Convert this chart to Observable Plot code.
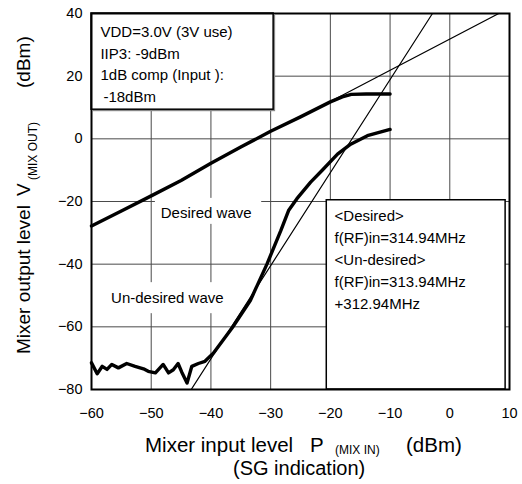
<!DOCTYPE html>
<html>
<head>
<meta charset="utf-8">
<script src="https://cdn.jsdelivr.net/npm/d3@7"></script>
<script src="https://cdn.jsdelivr.net/npm/@observablehq/plot@0.6"></script>
<style>
  html, body { margin: 0; padding: 0; background: #fff; }
  #chart { width: 522px; height: 484px; }
</style>
</head>
<body>
<div id="chart"></div>
<script>
// ---- data ----
const xDomain = [-60, 10];
const yDomain = [-80, 40];
const xTicks = [-60, -50, -40, -30, -20, -10, 0, 10];
const yTicks = [-80, -60, -40, -20, 0, 20, 40];

// Desired wave (thick)
const desiredX = [-60, -55, -50, -45, -40, -35, -30, -25, -20, -18, -16.5, -14, -12, -10];
const desiredY = [-27.8, -23, -18.2, -13.3, -7.8, -2.6, 2.4, 7, 11.8, 13.4, 14.2, 14.3, 14.3, 14.3];

// Un-desired wave (thick)
const undesiredX = [-60, -59.05, -58.2, -57.4, -56.6, -55.5, -54.1, -52.7, -51.3, -50.5, -49.3, -48, -47.1, -46.3, -45.5, -44.9, -44, -43.2, -42.1, -41, -39.6, -36.4, -33.4, -30.6, -28.3, -27, -25.6, -23.3, -21.4, -18.8, -16.6, -13.8, -10];
const undesiredY = [-71.5, -75, -72.6, -73.6, -72, -73.1, -71.7, -72.6, -73.4, -74.2, -74.7, -72, -74.7, -73.7, -71.7, -74.4, -77.9, -72.6, -71.7, -71, -68.4, -60.2, -51.6, -39.9, -29.3, -22.9, -19.1, -13.8, -10.1, -4.9, -1.7, 1, 3];

// Thin extrapolation lines
const desiredThinX = [-22, 8.2];
const desiredThinY = [9.9, 40];
const undesiredThinX = [-43.3, -2.9];
const undesiredThinY = [-80, 40];

// Annotation boxes
const infoBox = {x1: -60, x2: -29.5, y1: 40, y2: 9.3};
const condBox = {x1: -20.6, x2: 9.35, y1: -19.6, y2: -80};
const labelBacks = [
  {x1: -49.3, x2: -31.5, y1: -19, y2: -27.3},
  {x1: -58.5, x2: -36.4, y1: -45.9, y2: -55.8}
];

const infoLines = ["VDD=3.0V (3V use)", "IIP3: -9dBm", "1dB comp (Input ):", "-18dBm"];
const infoLineX = [-58.5, -58.5, -58.5, -58.0];
const infoLineY = [34.0, 27.1, 20.3, 13.3];

const condLines = ["<Desired>", "f(RF)in=314.94MHz", "<Un-desired>", "f(RF)in=313.94MHz", "+312.94MHz"];
const condLineX = -19.3;
const condLineY = [-24.8, -31.8, -38.8, -45.9, -52.9];

const waveLabels = ["Desired wave", "Un-desired wave"];
const waveLabelX = [-40.8, -47.3];
const waveLabelY = [-23.8, -50.8];

// ---- build tables ----
const desired = desiredX.map((x, i) => ({x, y: desiredY[i]}));
const undesired = undesiredX.map((x, i) => ({x, y: undesiredY[i]}));
const desiredThin = desiredThinX.map((x, i) => ({x, y: desiredThinY[i]}));
const undesiredThin = undesiredThinX.map((x, i) => ({x, y: undesiredThinY[i]}));
const infoText = infoLines.map((t, i) => ({t, x: infoLineX[i], y: infoLineY[i]}));
const condText = condLines.map((t, i) => ({t, x: condLineX, y: condLineY[i]}));
const waveText = waveLabels.map((t, i) => ({t, x: waveLabelX[i], y: waveLabelY[i]}));

const FONT = "'Liberation Sans', Arial, Helvetica, sans-serif";
const gridColor = "#4a4a4a";

const svg = Plot.plot({
  width: 522,
  height: 484,
  marginLeft: 91,
  marginRight: 13,
  marginTop: 13,
  marginBottom: 95,
  style: {fontFamily: FONT, fontSize: "14.5px", color: "#000", background: "#fff"},
  x: {domain: xDomain, ticks: xTicks, label: null},
  y: {domain: yDomain, ticks: yTicks, label: null},
  marks: [
    Plot.gridX(xTicks, {stroke: gridColor, strokeOpacity: 1, strokeWidth: 1}),
    Plot.gridY(yTicks, {stroke: gridColor, strokeOpacity: 1, strokeWidth: 1}),
    Plot.rect(labelBacks, {x1: "x1", x2: "x2", y1: "y1", y2: "y2", fill: "white"}),
    Plot.rect([infoBox], {x1: "x1", x2: "x2", y1: "y1", y2: "y2", fill: "#888", dx: 2, dy: 2}),
    Plot.rect([infoBox], {x1: "x1", x2: "x2", y1: "y1", y2: "y2", fill: "white", stroke: "black", strokeWidth: 1.5}),
    Plot.rect([condBox], {x1: "x1", x2: "x2", y1: "y1", y2: "y2", fill: "white", stroke: "black", strokeWidth: 1.5}),
    Plot.text(infoText, {x: "x", y: "y", text: "t", textAnchor: "start", fontSize: 15, fill: "black"}),
    Plot.text(condText, {x: "x", y: "y", text: "t", textAnchor: "start", fontSize: 15, fill: "black"}),
    Plot.text(waveText, {x: "x", y: "y", text: "t", textAnchor: "middle", fontSize: 15, fill: "black"}),
    Plot.line(desiredThin, {x: "x", y: "y", stroke: "black", strokeWidth: 1.2, clip: true}),
    Plot.line(undesiredThin, {x: "x", y: "y", stroke: "black", strokeWidth: 1.2, clip: true}),
    Plot.line(desired, {x: "x", y: "y", stroke: "black", strokeWidth: 3.4, curve: "linear"}),
    Plot.line(undesired, {x: "x", y: "y", stroke: "black", strokeWidth: 3.4, curve: "linear"}),
    Plot.frame({stroke: "black", strokeWidth: 2}),
    Plot.axisX(xTicks, {tickSize: 0, tickPadding: 18, fontSize: 14.5, label: null}),
    Plot.axisY(yTicks, {tickSize: 0, tickPadding: 9, fontSize: 14.5, label: null})
  ]
});

document.getElementById("chart").appendChild(svg);

// ---- axis titles ----
const s = d3.select(svg);
const addText = (x, y, txt, size, rotate) => {
  const t = s.append("text")
    .attr("font-family", FONT)
    .attr("font-size", size)
    .attr("text-anchor", "start")
    .attr("fill", "black")
    .text(txt);
  if (rotate) t.attr("transform", `translate(${x},${y}) rotate(-90)`);
  else t.attr("x", x).attr("y", y);
  return t;
};
// x title
addText(145, 452, "Mixer input level", 20.5);
addText(310, 452, "P", 20.5);
addText(335, 454, "(MIX IN)", 12);
addText(406, 452, "(dBm)", 20.5);
addText(233, 475, "(SG indication)", 20);
// y title
addText(29.5, 354, "Mixer output level", 19, true);
addText(29.5, 196, "V", 19, true);
addText(37, 180, "(MIX OUT)", 12, true);
addText(29.5, 88, "(dBm)", 19, true);
</script>
</body>
</html>
